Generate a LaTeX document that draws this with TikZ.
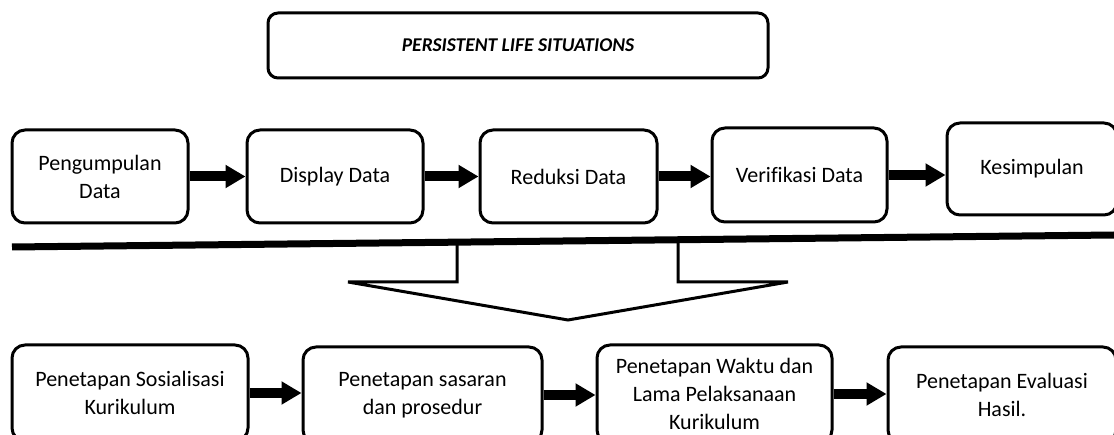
\documentclass[tikz,border=0pt]{standalone}
\usepackage{fontspec}
\setmainfont{Carlito}[Ligatures=CommonOff]
\usetikzlibrary{arrows.meta,calc}
\begin{document}
\begin{tikzpicture}[x=1pt,y=-1pt,
  box/.style={draw=black,line width=3pt,rounded corners=13pt,fill=white,align=center,
    inner sep=0pt,font=\fontsize{22}{28}\selectfont},
  flow/.style={line width=10pt,-{Triangle[length=20pt,width=22pt]}},
  bar/.style={line width=7pt},
  chev/.style={line width=3pt,line join=miter}]
\useasboundingbox (0,0) rectangle (1114,435);
\clip (0,0) rectangle (1114,435);
% title
\node[box,minimum width=500pt,minimum height=65pt,rounded corners=10pt,
  font=\fontsize{19.5}{24}\selectfont\bfseries\itshape] (top) at (518,45.5) {PERSISTENT LIFE SITUATIONS};
% row 1
\node[box,minimum width=176pt,minimum height=93pt] (b1) at (100,176.5) {Pengumpulan\\Data};
\node[box,minimum width=176pt,minimum height=93pt] (b2) at (335,176.5) {Display Data};
\node[box,minimum width=177pt,minimum height=93pt] (b3) at (568.5,176.5) {Reduksi Data};
\node[box,minimum width=175pt,minimum height=94pt] (b4) at (799.5,175) {Verifikasi Data};
\node[box,minimum width=170pt,minimum height=92pt] (b5) at (1032,169) {Kesimpulan};
\draw[flow] (b1.east) -- (b2.west);
\draw[flow] (b2.east) -- (b3.west);
\draw[flow] (b3.east) -- (b3.east -| b4.west);
\draw[flow] (b4.east) -- (b4.east -| b5.west);
% separator bar
\coordinate (barL) at (12,247);
\coordinate (barR) at (1114,235);
\draw[bar] (barL) -- (barR);
% chevron arrow
\coordinate (c1) at (457,242);
\coordinate (c2) at (678,239.7);
\draw[chev] (c1) -- (457,282) -- (348,282) -- (568,320) -- (788,282) -- (678,282) -- (c2);
% row 2
\node[box,minimum width=236pt,minimum height=96pt] (l1) at (130,393) {Penetapan Sosialisasi\\Kurikulum};
\node[box,minimum width=239pt,minimum height=96pt] (l2) at (422.5,395) {Penetapan sasaran\\dan prosedur};
\node[box,minimum width=235pt,minimum height=98pt] (l3) at (714.5,394) {Penetapan Waktu dan\\Lama Pelaksanaan\\Kurikulum};
\node[box,minimum width=228pt,minimum height=96pt] (l4) at (1002,395) {Penetapan Evaluasi\\Hasil.};
\draw[flow] (l1.east) -- (l1.east -| l2.west);
\draw[flow] (l2.east) -- (l2.east -| l3.west);
\draw[flow] (l3.east) -- (l3.east -| l4.west);
\end{tikzpicture}
\end{document}
